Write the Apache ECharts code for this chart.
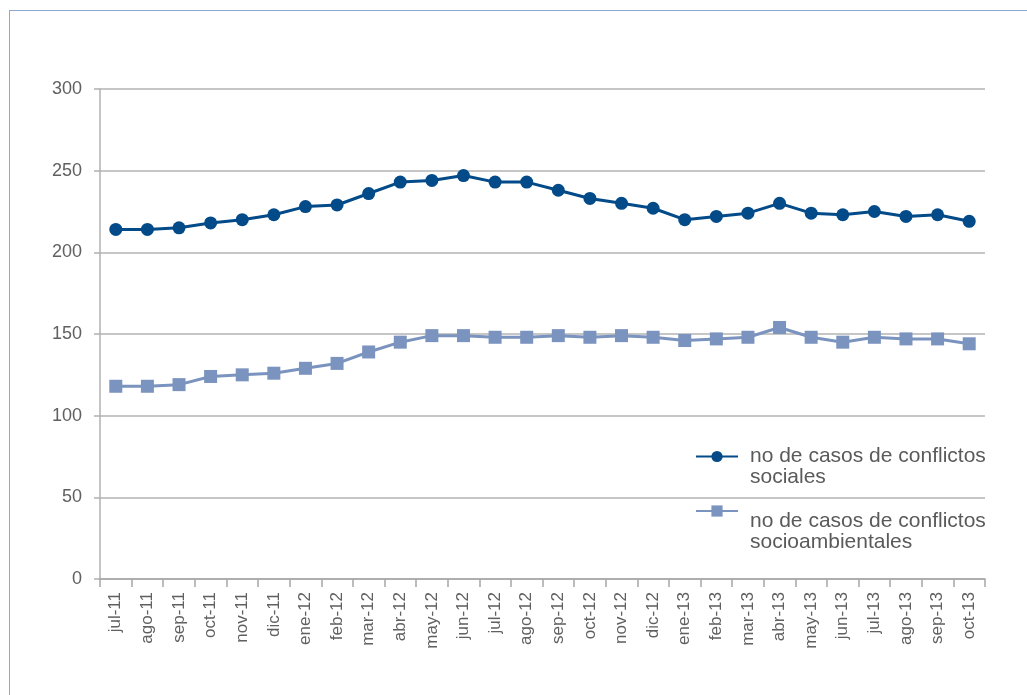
<!DOCTYPE html>
<html>
<head>
<meta charset="utf-8">
<script src="https://cdn.jsdelivr.net/npm/echarts@6/dist/echarts.min.js"></script>
<style>
html,body{margin:0;padding:0;background:#fff;}
#frame{position:absolute;left:9px;top:10px;width:1100px;height:800px;border-left:1.5px solid #8fa7d4;border-top:1.5px solid #8fa7d4;}
#main{position:absolute;left:0;top:0;width:1027px;height:695px;}
</style>
</head>
<body>
<div id="frame"></div>
<div id="main"></div>
<script>
const categories = ['jul-11','ago-11','sep-11','oct-11','nov-11','dic-11','ene-12','feb-12','mar-12','abr-12','may-12','jun-12','jul-12','ago-12','sep-12','oct-12','nov-12','dic-12','ene-13','feb-13','mar-13','abr-13','may-13','jun-13','jul-13','ago-13','sep-13','oct-13'];
const sociales = [214,214,215,218,220,223,228,229,236,243,244,247,243,243,238,233,230,227,220,222,224,230,224,223,225,222,223,219];
const socioambientales = [118,118,119,124,125,126,129,132,139,145,149,149,148,148,149,148,149,148,146,147,148,154,148,145,148,147,147,144];
const yTicks = [0,50,100,150,200,250,300];

const nameA = 'no de casos de conflictos sociales';
const nameB = 'no de casos de conflictos socioambientales';
const FONT = 'Liberation Sans';
const richText = {
  a:{fontFamily:FONT,fontSize:21,lineHeight:21,color:'#5a5a5a',padding:[0,0,0,7]},
  b:{fontFamily:FONT,fontSize:21,lineHeight:21,height:21}
};
const chart = echarts.init(document.getElementById('main'));
chart.setOption({
  animation:false,
  textStyle:{fontFamily:FONT},
  grid:{left:100,right:42,top:89,bottom:116,containLabel:false},
  legend:[{
    data:[nameA], orient:'vertical', left:695, top:425, padding:0,
    itemWidth:42, itemHeight:14,
    formatter:()=> '{b|}\n{a|no de casos de conflictos}\n{a|sociales}',
    textStyle:{fontFamily:FONT,fontSize:21,lineHeight:21,color:'#5a5a5a',rich:richText}
  },{
    data:[nameB], orient:'vertical', left:695, top:469, padding:0,
    itemWidth:42, itemHeight:14,
    formatter:()=> '{b|}\n{b|}\n{a|no de casos de conflictos}\n{a|socioambientales}',
    textStyle:{fontFamily:FONT,fontSize:21,lineHeight:21,color:'#5a5a5a',rich:richText}
  }],
  xAxis:{
    type:'category', data:categories, boundaryGap:true,
    axisLine:{lineStyle:{color:'#a6a6a6',width:1.5}},
    axisTick:{show:true,length:8,lineStyle:{color:'#a6a6a6',width:1.5}},
    axisLabel:{rotate:90,fontSize:17,color:'#606060',margin:13,interval:0}
  },
  yAxis:{
    type:'value', min:0, max:300, interval:50,
    axisLine:{show:true,lineStyle:{color:'#b0b0b0',width:1.5}},
    axisTick:{show:true,length:6,lineStyle:{color:'#b0b0b0',width:1.5}},
    axisLabel:{fontSize:18,color:'#606060',margin:18,
      formatter:(v)=> yTicks.includes(v) ? String(v) : ''},
    splitLine:{lineStyle:{color:'#b3b3b3',width:1.5}}
  },
  series:[{
    name:nameA, type:'line', data:sociales,
    symbol:'circle', symbolSize:13,
    lineStyle:{color:'#024a88',width:3},
    itemStyle:{color:'#024a88'}
  },{
    name:nameB, type:'line', data:socioambientales,
    symbol:'rect', symbolSize:13,
    lineStyle:{color:'#7b93bf',width:3},
    itemStyle:{color:'#7b93bf'}
  }]
});
</script>
</body>
</html>
